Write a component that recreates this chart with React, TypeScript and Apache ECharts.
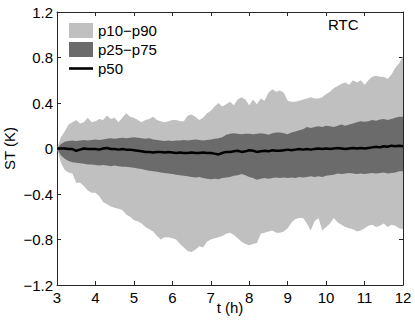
import React, { useEffect, useRef } from "react";
import * as echarts from "echarts";

const times = [
  3.0, 3.1, 3.2, 3.3, 3.4, 3.5, 3.6, 3.7, 3.8, 3.9,
  4.0, 4.1, 4.2, 4.3, 4.4, 4.5, 4.6, 4.7, 4.8, 4.9,
  5.0, 5.1, 5.2, 5.3, 5.4, 5.5, 5.6, 5.7, 5.8, 5.9,
  6.0, 6.1, 6.2, 6.3, 6.4, 6.5, 6.6, 6.7, 6.8, 6.9,
  7.0, 7.1, 7.2, 7.3, 7.4, 7.5, 7.6, 7.7, 7.8, 7.9,
  8.0, 8.1, 8.2, 8.3, 8.4, 8.5, 8.6, 8.7, 8.8, 8.9,
  9.0, 9.1, 9.2, 9.3, 9.4, 9.5, 9.6, 9.7, 9.8, 9.9,
  10.0, 10.1, 10.2, 10.3, 10.4, 10.5, 10.6, 10.7, 10.8, 10.9,
  11.0, 11.1, 11.2, 11.3, 11.4, 11.5, 11.6, 11.7, 11.8, 11.9,
  12.0,
];

const p90 = [
  0.0, 0.1, 0.15, 0.21, 0.23, 0.25, 0.22, 0.23, 0.27, 0.23,
  0.24, 0.26, 0.25, 0.29, 0.26, 0.27, 0.23, 0.27, 0.31, 0.28,
  0.27, 0.25, 0.23, 0.25, 0.26, 0.28, 0.25, 0.24, 0.23, 0.24,
  0.25, 0.25, 0.24, 0.24, 0.29, 0.3, 0.28, 0.25, 0.27, 0.31,
  0.33, 0.37, 0.4, 0.37, 0.39, 0.41, 0.38, 0.43, 0.45, 0.43,
  0.38, 0.43, 0.39, 0.44, 0.42, 0.49, 0.52, 0.5, 0.51, 0.49,
  0.42, 0.41, 0.41, 0.42, 0.43, 0.44, 0.45, 0.44, 0.44, 0.45,
  0.48, 0.5, 0.53, 0.55, 0.57, 0.58, 0.56, 0.6, 0.58, 0.6,
  0.56, 0.6, 0.63, 0.64, 0.63, 0.63, 0.61, 0.65, 0.71, 0.75,
  0.81,
];

const p75 = [
  0.0, 0.04, 0.06, 0.065, 0.07, 0.065, 0.07, 0.075, 0.07, 0.075,
  0.08, 0.075, 0.08, 0.085, 0.09, 0.085, 0.09, 0.095, 0.09, 0.095,
  0.1, 0.095, 0.09, 0.085, 0.09, 0.08, 0.075, 0.07, 0.065, 0.07,
  0.065, 0.07, 0.07, 0.075, 0.07, 0.075, 0.08, 0.075, 0.07, 0.075,
  0.08, 0.085, 0.09, 0.1, 0.12, 0.13, 0.135, 0.13, 0.125, 0.13,
  0.13, 0.125, 0.13, 0.135, 0.13, 0.12, 0.135, 0.14, 0.14, 0.135,
  0.125, 0.14, 0.15, 0.16, 0.17, 0.19, 0.18, 0.19, 0.195, 0.19,
  0.2, 0.195, 0.19, 0.2, 0.21, 0.2, 0.21, 0.22, 0.23, 0.24,
  0.235, 0.24, 0.25, 0.245, 0.255, 0.26, 0.25, 0.26, 0.27, 0.28,
  0.28,
];

const p50 = [
  0.0, 0.0, 0.0, -0.005, -0.005, -0.02, -0.01, 0.0, -0.005, -0.005,
  -0.005, -0.01, 0.0, 0.005, -0.005, -0.005, -0.01, -0.005, -0.01, -0.01,
  -0.015, -0.02, -0.025, -0.03, -0.03, -0.035, -0.03, -0.03, -0.035, -0.03,
  -0.035, -0.04, -0.035, -0.04, -0.04, -0.035, -0.04, -0.04, -0.035, -0.04,
  -0.04, -0.045, -0.052, -0.04, -0.03, -0.03, -0.025, -0.02, -0.03, -0.025,
  -0.015, -0.02, -0.03, -0.025, -0.02, -0.025, -0.015, -0.02, -0.02, -0.015,
  -0.01, -0.015, -0.01, -0.005, -0.01, -0.005, -0.01, -0.005, 0.0, -0.005,
  0.0, -0.005, 0.0, 0.005, 0.0, -0.005, 0.0, 0.005, 0.0, 0.005,
  0.0, 0.005, 0.01, 0.015, 0.01, 0.02, 0.015, 0.025, 0.02, 0.025,
  0.02,
];

const p25 = [
  0.0, -0.06, -0.09, -0.11, -0.12, -0.125, -0.13, -0.135, -0.14, -0.14,
  -0.145, -0.15, -0.145, -0.15, -0.155, -0.15, -0.155, -0.16, -0.16, -0.165,
  -0.17, -0.175, -0.18, -0.19, -0.195, -0.2, -0.205, -0.21, -0.215, -0.22,
  -0.225, -0.23, -0.235, -0.24, -0.245, -0.25, -0.255, -0.25, -0.26, -0.265,
  -0.27, -0.265, -0.27, -0.26, -0.255, -0.25, -0.24, -0.235, -0.225, -0.235,
  -0.25, -0.26, -0.275, -0.265, -0.26, -0.265, -0.26, -0.255, -0.26, -0.255,
  -0.26, -0.255, -0.26, -0.25, -0.255, -0.25, -0.245, -0.25, -0.245, -0.25,
  -0.24, -0.235, -0.23, -0.22, -0.225, -0.22, -0.215, -0.22, -0.225, -0.22,
  -0.225, -0.22, -0.215, -0.22, -0.215, -0.21, -0.22, -0.215, -0.21, -0.2,
  -0.2,
];

const p10 = [
  0.0, -0.12, -0.19, -0.21, -0.22, -0.3, -0.3, -0.33, -0.37, -0.39,
  -0.39, -0.42, -0.47, -0.49, -0.51, -0.52, -0.53, -0.54, -0.58, -0.6,
  -0.63, -0.64, -0.66, -0.69, -0.71, -0.73, -0.77, -0.8, -0.78, -0.78,
  -0.79, -0.8, -0.84, -0.87, -0.9, -0.91, -0.89, -0.86, -0.87, -0.82,
  -0.8, -0.79, -0.78, -0.77, -0.75, -0.74, -0.76, -0.79, -0.82, -0.84,
  -0.85, -0.84, -0.83, -0.75, -0.74, -0.73, -0.72, -0.74, -0.74, -0.73,
  -0.7, -0.65, -0.62, -0.61, -0.61, -0.66, -0.72, -0.64, -0.61, -0.72,
  -0.69, -0.66, -0.61, -0.65, -0.67, -0.69, -0.7, -0.71, -0.73, -0.72,
  -0.7, -0.68, -0.67, -0.69, -0.68, -0.66, -0.69, -0.67, -0.68, -0.7,
  -0.71,
];

const FONT = "'Liberation Sans', Arial, Helvetica, sans-serif";
const LIGHT = "#c0c0c0";
const DARK = "#6b6b6b";
const AXIS = "#262626";

function bandSeries(name: string, lo: number[], hi: number[], color: string) {
  return {
    type: "custom",
    name,
    coordinateSystem: "cartesian2d",
    xAxisIndex: 0,
    yAxisIndex: 0,
    itemStyle: { color },
    clip: true,
    silent: true,
    data: times.map((t, i) => [t, lo[i], hi[i]]),
    encode: { x: 0, y: [1, 2] },
    renderItem: (params: any, api: any) => {
      if (params.dataIndex !== 0) return null;
      const upper = times.map((t, i) => api.coord([t, hi[i]]));
      const lower = times.map((t, i) => api.coord([t, lo[i]])).reverse();
      return {
        type: "polygon",
        shape: { points: upper.concat(lower) },
        style: { fill: color, stroke: null },
      };
    },
  };
}

function fmtY(v: number) {
  if (Math.abs(v) < 1e-9) return "0";
  return v.toFixed(1).replace("-", "−");
}

export default function App() {
  const ref = useRef<HTMLDivElement>(null);
  useEffect(() => {
    if (!ref.current) return;
    const chart = echarts.init(ref.current, null, { renderer: "svg" });
    const axisCommon = {
      min: 3,
      max: 12,
      interval: 1,
      splitLine: { show: false },
      axisLine: { show: true, onZero: false, lineStyle: { color: AXIS, width: 1 } },
      axisTick: { show: true, inside: true, length: 4, lineStyle: { color: AXIS } },
    };
    const yCommon = {
      min: -1.2,
      max: 1.2,
      interval: 0.4,
      splitLine: { show: false },
      axisLine: { show: true, onZero: false, lineStyle: { color: AXIS, width: 1 } },
      axisTick: { show: true, inside: true, length: 4, lineStyle: { color: AXIS } },
    };
    chart.setOption({
      animation: false,
      backgroundColor: "#ffffff",
      textStyle: { fontFamily: FONT },
      grid: { left: 57, right: 12, top: 12, bottom: 37, containLabel: false, outerBoundsMode: "none" },
      legend: {
        show: true,
        orient: "vertical",
        left: 64,
        top: 18,
        itemWidth: 24,
        itemHeight: 15,
        itemGap: 4,
        selectedMode: false,
        textStyle: { fontFamily: FONT, fontSize: 15, color: "#000" },
        data: [
          { name: "p10−p90", icon: "rect" },
          { name: "p25−p75", icon: "rect" },
          { name: "p50", icon: "path://M0,0H24V2.6H0Z" },
        ],
      },
      xAxis: [
        {
          type: "value",
          position: "bottom",
          ...axisCommon,
          name: "t (h)",
          nameLocation: "middle",
          nameGap: 15,
          nameMoveOverlap: false,
          nameTextStyle: { fontFamily: FONT, fontSize: 15, color: "#000" },
          axisLabel: { show: true, margin: 5, fontFamily: FONT, fontSize: 15, color: "#000" },
        },
        {
          type: "value",
          position: "top",
          ...axisCommon,
          axisLabel: { show: false },
        },
      ],
      yAxis: [
        {
          type: "value",
          position: "left",
          ...yCommon,
          name: "ST (K)",
          nameLocation: "middle",
          nameGap: 40,
          nameMoveOverlap: false,
          nameTextStyle: { fontFamily: FONT, fontSize: 15, color: "#000" },
          axisLabel: { show: true, margin: 4, fontFamily: FONT, fontSize: 15, color: "#000", formatter: fmtY },
        },
        {
          type: "value",
          position: "right",
          ...yCommon,
          axisLabel: { show: false },
        },
      ],
      graphic: [
        {
          type: "text",
          left: 328,
          top: 17,
          style: { text: "RTC", fontFamily: FONT, fontSize: 15, fill: "#000" },
          silent: true,
        },
      ],
      series: [
        bandSeries("p10−p90", p10, p90, LIGHT),
        bandSeries("p25−p75", p25, p75, DARK),
        {
          type: "line",
          name: "p50",
          xAxisIndex: 0,
          yAxisIndex: 0,
          showSymbol: false,
          symbol: "none",
          itemStyle: { color: "#000" },
          lineStyle: { color: "#000", width: 2.5 },
          data: times.map((t, i) => [t, p50[i]]),
          z: 5,
        },
      ],
    });
    return () => chart.dispose();
  }, []);
  return (
    <div
      ref={ref}
      style={{ position: "absolute", left: 0, top: 0, width: 415, height: 322 }}
    />
  );
}
